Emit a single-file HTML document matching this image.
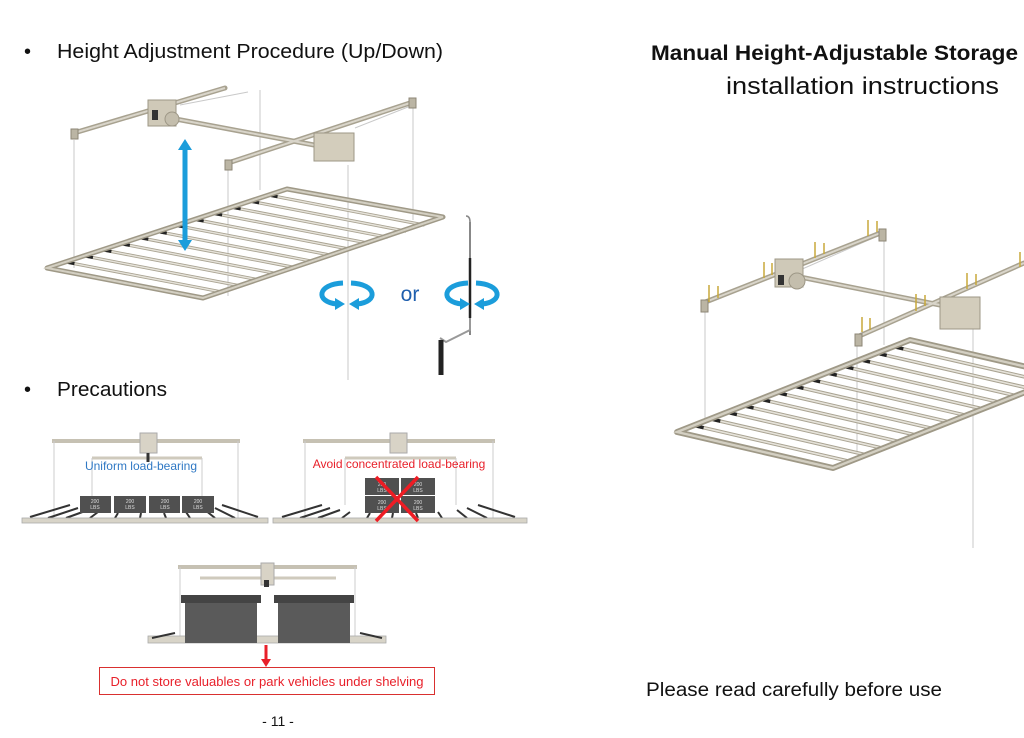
<!DOCTYPE html>
<html><head><meta charset="utf-8"><style>
html,body{margin:0;padding:0;background:#fff;}
svg{display:block;}
text{font-family:"Liberation Sans",sans-serif;}
</style></head><body>
<svg width="1024" height="738" viewBox="0 0 1024 738" xmlns="http://www.w3.org/2000/svg">
<defs>
<g id="sL"><line x1="0" y1="0" x2="156" y2="30" stroke="#a9a392" stroke-width="3.2"/><line x1="0" y1="0" x2="156" y2="30" stroke="#e6e3da" stroke-width="1.4"/><line x1="1" y1="0.2" x2="9" y2="1.7" stroke="#222" stroke-width="3"/></g>
<g id="sR"><line x1="0" y1="0" x2="156" y2="36" stroke="#a9a392" stroke-width="3.6"/><line x1="0" y1="0" x2="156" y2="36" stroke="#e6e3da" stroke-width="1.6"/><line x1="1" y1="0.2" x2="10" y2="2.3" stroke="#222" stroke-width="3.4"/></g>
<g id="rot">
<path d="M-4,-11 C-30,-10 -32,8 -10,10" fill="none" stroke="#1b9ddb" stroke-width="5"/>
<polygon points="-12,4 -2,10 -12,16" fill="#1b9ddb"/>
<path d="M4,-11 C30,-10 32,8 10,10" fill="none" stroke="#1b9ddb" stroke-width="5"/>
<polygon points="12,4 2,10 12,16" fill="#1b9ddb"/>
</g>
</defs>

<!-- Texts -->
<text x="24" y="58" font-size="20" fill="#111">•</text>
<text x="57" y="58" font-size="20" fill="#111" textLength="386" lengthAdjust="spacingAndGlyphs">Height Adjustment Procedure (Up/Down)</text>
<text x="24" y="396" font-size="20" fill="#111">•</text>
<text x="57" y="396" font-size="20" fill="#111" textLength="110" lengthAdjust="spacingAndGlyphs">Precautions</text>
<text x="651" y="60" font-size="21" font-weight="bold" fill="#111" textLength="367" lengthAdjust="spacingAndGlyphs">Manual Height-Adjustable Storage</text>
<text x="726" y="94" font-size="24" fill="#111" textLength="273" lengthAdjust="spacingAndGlyphs">installation instructions</text>
<text x="646" y="696" font-size="19" fill="#111" textLength="296" lengthAdjust="spacingAndGlyphs">Please read carefully before use</text>
<text x="278" y="726" font-size="14" fill="#111" text-anchor="middle">- 11 -</text>

<!-- LEFT TOP DIAGRAM -->
<g stroke="#c9c9c9" stroke-width="1">
<line x1="74" y1="140" x2="74" y2="268"/><line x1="228" y1="170" x2="228" y2="296"/>
<line x1="260" y1="90" x2="260" y2="190"/><line x1="413" y1="108" x2="413" y2="220"/>
<line x1="348" y1="165" x2="348" y2="380"/>
<line x1="180" y1="105" x2="248" y2="92"/><line x1="355" y1="128" x2="413" y2="105"/>
</g>
<!-- ceiling bars -->
<g stroke="#a8a290" stroke-width="5" stroke-linecap="round"><line x1="74" y1="133" x2="225" y2="88"/><line x1="228" y1="163" x2="413" y2="102"/><line x1="165" y1="117" x2="330" y2="148"/></g>
<g stroke="#d9d5ca" stroke-width="2"><line x1="74" y1="133" x2="225" y2="88"/><line x1="228" y1="163" x2="413" y2="102"/><line x1="165" y1="117" x2="330" y2="148"/></g>
<rect x="148" y="100" width="28" height="26" fill="#cfc9b8" stroke="#9d9786"/>
<rect x="152" y="110" width="6" height="10" fill="#333"/>
<circle cx="172" cy="119" r="7" fill="#c4bead" stroke="#9d9786"/>
<rect x="314" y="133" width="40" height="28" fill="#d3cdbc" stroke="#9d9786"/>
<rect x="71" y="129" width="7" height="10" fill="#bbb5a4" stroke="#8c8676"/>
<rect x="225" y="160" width="7" height="10" fill="#bbb5a4" stroke="#8c8676"/>
<rect x="409" y="98" width="7" height="10" fill="#bbb5a4" stroke="#8c8676"/>
<!-- frame -->
<g transform="translate(47,268)">
<use href="#sL" transform="translate(18.46,-6.08)"/><use href="#sL" transform="translate(36.92,-12.15)"/><use href="#sL" transform="translate(55.38,-18.23)"/><use href="#sL" transform="translate(73.85,-24.31)"/><use href="#sL" transform="translate(92.31,-30.38)"/><use href="#sL" transform="translate(110.77,-36.46)"/><use href="#sL" transform="translate(129.23,-42.54)"/><use href="#sL" transform="translate(147.69,-48.62)"/><use href="#sL" transform="translate(166.15,-54.69)"/><use href="#sL" transform="translate(184.62,-60.77)"/><use href="#sL" transform="translate(203.08,-66.85)"/><use href="#sL" transform="translate(221.54,-72.92)"/>
</g>
<polygon points="47,268 287,189 443,217 203,298" fill="none" stroke="#9f9987" stroke-width="5" stroke-linejoin="round"/>
<polygon points="47,268 287,189 443,217 203,298" fill="none" stroke="#d3cfc2" stroke-width="2"/>
<!-- blue arrow -->
<line x1="185" y1="150" x2="185" y2="240" stroke="#1b9ddb" stroke-width="5"/>
<polygon points="178,150 185,139 192,150" fill="#1b9ddb"/>
<polygon points="178,240 185,251 192,240" fill="#1b9ddb"/>
<!-- rotations -->
<use href="#rot" transform="translate(347,294)"/>
<text x="410" y="301" font-size="21" fill="#1f5fae" text-anchor="middle">or</text>
<line x1="470" y1="222" x2="470" y2="335" stroke="#888" stroke-width="2"/>
<path d="M470,222 q0,-6 -4,-6" fill="none" stroke="#888" stroke-width="1.5"/>
<line x1="470" y1="258" x2="470" y2="318" stroke="#222" stroke-width="2.5"/>
<path d="M470,318 L470,330 L446,342 L440,338" fill="none" stroke="#999" stroke-width="2"/>
<line x1="441" y1="340" x2="441" y2="375" stroke="#222" stroke-width="5"/>
<use href="#rot" transform="translate(472,294)"/>

<!-- RIGHT DIAGRAM -->
<g stroke="#c9c9c9" stroke-width="1">
<line x1="705" y1="310" x2="705" y2="420"/><line x1="884" y1="240" x2="884" y2="345"/>
<line x1="857" y1="345" x2="857" y2="452"/><line x1="973" y1="322" x2="973" y2="548"/>
<line x1="800" y1="270" x2="880" y2="235"/>
</g>
<g stroke="#a8a290" stroke-width="5" stroke-linecap="round"><line x1="703" y1="303" x2="883" y2="232"/><line x1="857" y1="337" x2="1024" y2="263"/><line x1="790" y1="275" x2="965" y2="310"/></g>
<g stroke="#d9d5ca" stroke-width="2"><line x1="703" y1="303" x2="883" y2="232"/><line x1="857" y1="337" x2="1024" y2="263"/><line x1="790" y1="275" x2="965" y2="310"/></g>
<rect x="775" y="259" width="28" height="28" fill="#cfc9b8" stroke="#9d9786"/>
<rect x="778" y="275" width="6" height="10" fill="#333"/>
<circle cx="797" cy="281" r="8" fill="#c4bead" stroke="#9d9786"/>
<rect x="940" y="297" width="40" height="32" fill="#d3cdbc" stroke="#9d9786"/>
<rect x="701" y="300" width="7" height="12" fill="#bbb5a4" stroke="#8c8676"/>
<rect x="855" y="334" width="7" height="12" fill="#bbb5a4" stroke="#8c8676"/>
<rect x="879" y="229" width="7" height="12" fill="#bbb5a4" stroke="#8c8676"/>
<g stroke="#c8a93a" stroke-width="1.5">
<line x1="709" y1="285" x2="709" y2="302"/><line x1="718" y1="286" x2="718" y2="298"/>
<line x1="764" y1="262" x2="764" y2="278"/><line x1="772" y1="263" x2="772" y2="275"/>
<line x1="815" y1="242" x2="815" y2="258"/><line x1="824" y1="243" x2="824" y2="254"/>
<line x1="868" y1="220" x2="868" y2="236"/><line x1="877" y1="221" x2="877" y2="232"/>
<line x1="862" y1="317" x2="862" y2="332"/><line x1="870" y1="318" x2="870" y2="330"/>
<line x1="916" y1="294" x2="916" y2="311"/><line x1="925" y1="295" x2="925" y2="306"/>
<line x1="967" y1="273" x2="967" y2="289"/><line x1="976" y1="274" x2="976" y2="285"/>
<line x1="1020" y1="252" x2="1020" y2="267"/>
</g>
<g transform="translate(677,432)">
<use href="#sR" transform="translate(16.64,-6.57)"/><use href="#sR" transform="translate(33.29,-13.14)"/><use href="#sR" transform="translate(49.93,-19.71)"/><use href="#sR" transform="translate(66.57,-26.29)"/><use href="#sR" transform="translate(83.21,-32.86)"/><use href="#sR" transform="translate(99.86,-39.43)"/><use href="#sR" transform="translate(116.5,-46)"/><use href="#sR" transform="translate(133.14,-52.57)"/><use href="#sR" transform="translate(149.79,-59.14)"/><use href="#sR" transform="translate(166.43,-65.71)"/><use href="#sR" transform="translate(183.07,-72.29)"/><use href="#sR" transform="translate(199.71,-78.86)"/><use href="#sR" transform="translate(216.36,-85.43)"/>
</g>
<polygon points="677,432 910,340 1066,376 833,468" fill="none" stroke="#9f9987" stroke-width="6" stroke-linejoin="round"/>
<polygon points="677,432 910,340 1066,376 833,468" fill="none" stroke="#d3cfc2" stroke-width="2.4"/>

<!-- PRECAUTION 1 -->
<g>
<line x1="52" y1="441" x2="240" y2="441" stroke="#c6c1b3" stroke-width="4"/>
<line x1="92" y1="458" x2="202" y2="458" stroke="#cfcabd" stroke-width="3"/>
<line x1="54" y1="441" x2="54" y2="519" stroke="#ccc" stroke-width="1"/><line x1="238" y1="441" x2="238" y2="519" stroke="#ccc" stroke-width="1"/>
<line x1="92" y1="458" x2="92" y2="505" stroke="#ccc"/><line x1="202" y1="458" x2="202" y2="505" stroke="#ccc"/>
<rect x="140" y="433" width="17" height="20" fill="#d8d3c6" stroke="#aaa"/>
<line x1="148" y1="453" x2="148" y2="462" stroke="#333" stroke-width="3"/>
<text x="141" y="470" font-size="12" fill="#2f78c4" text-anchor="middle">Uniform load-bearing</text>
<g stroke="#333" stroke-width="2"><line x1="30" y1="517" x2="70" y2="505"/><line x1="48" y1="518" x2="78" y2="508"/><line x1="66" y1="518" x2="88" y2="510"/><line x1="90" y1="518" x2="98" y2="512"/><line x1="115" y1="518" x2="118" y2="513"/><line x1="140" y1="518" x2="141" y2="513"/><line x1="166" y1="518" x2="164" y2="513"/><line x1="190" y1="518" x2="186" y2="512"/><line x1="215" y1="518" x2="205" y2="510"/><line x1="235" y1="518" x2="215" y2="508"/><line x1="258" y1="517" x2="222" y2="505"/></g>
<rect x="22" y="518" width="246" height="5" fill="#d8d4c8" stroke="#aaa" stroke-width="0.8"/>
<g fill="#505050"><rect x="80" y="496" width="31" height="17"/><rect x="114" y="496" width="32" height="17"/><rect x="149" y="496" width="31" height="17"/><rect x="182" y="496" width="32" height="17"/></g>
<g font-size="5" fill="#ddd" text-anchor="middle"><text x="95" y="503">200</text><text x="95" y="509">LBS</text><text x="130" y="503">200</text><text x="130" y="509">LBS</text><text x="165" y="503">200</text><text x="165" y="509">LBS</text><text x="198" y="503">200</text><text x="198" y="509">LBS</text></g>
</g>

<!-- PRECAUTION 2 -->
<g>
<line x1="303" y1="441" x2="495" y2="441" stroke="#c6c1b3" stroke-width="4"/>
<line x1="345" y1="458" x2="456" y2="458" stroke="#cfcabd" stroke-width="3"/>
<line x1="305" y1="441" x2="305" y2="519" stroke="#ccc"/><line x1="493" y1="441" x2="493" y2="519" stroke="#ccc"/>
<line x1="345" y1="458" x2="345" y2="505" stroke="#ccc"/><line x1="456" y1="458" x2="456" y2="505" stroke="#ccc"/>
<rect x="390" y="433" width="17" height="20" fill="#d8d3c6" stroke="#aaa"/>
<g stroke="#333" stroke-width="2"><line x1="282" y1="517" x2="322" y2="505"/><line x1="300" y1="518" x2="330" y2="508"/><line x1="318" y1="518" x2="340" y2="510"/><line x1="342" y1="518" x2="350" y2="512"/><line x1="367" y1="518" x2="370" y2="513"/><line x1="392" y1="518" x2="393" y2="513"/><line x1="418" y1="518" x2="416" y2="513"/><line x1="442" y1="518" x2="438" y2="512"/><line x1="467" y1="518" x2="457" y2="510"/><line x1="487" y1="518" x2="467" y2="508"/><line x1="515" y1="517" x2="478" y2="505"/></g>
<rect x="273" y="518" width="254" height="5" fill="#d8d4c8" stroke="#aaa" stroke-width="0.8"/>
<g fill="#505050"><rect x="365" y="478" width="34" height="17"/><rect x="401" y="478" width="34" height="17"/><rect x="365" y="496" width="34" height="17"/><rect x="401" y="496" width="34" height="17"/></g>
<g font-size="5" fill="#ddd" text-anchor="middle"><text x="382" y="486">200</text><text x="382" y="492">LBS</text><text x="418" y="486">200</text><text x="418" y="492">LBS</text><text x="382" y="504">200</text><text x="382" y="510">LBS</text><text x="418" y="504">200</text><text x="418" y="510">LBS</text></g>
<text x="399" y="468" font-size="12" fill="#e8202a" text-anchor="middle">Avoid concentrated load-bearing</text>
<g stroke="#ee1c24" stroke-width="3.5"><line x1="376" y1="477" x2="418" y2="521"/><line x1="418" y1="477" x2="376" y2="521"/></g>
</g>

<!-- PRECAUTION 3 -->
<g>
<line x1="178" y1="567" x2="357" y2="567" stroke="#c6c1b3" stroke-width="4"/>
<line x1="200" y1="578" x2="336" y2="578" stroke="#cfcabd" stroke-width="3"/>
<line x1="180" y1="567" x2="180" y2="640" stroke="#ccc"/><line x1="355" y1="567" x2="355" y2="640" stroke="#ccc"/>
<rect x="261" y="563" width="13" height="22" fill="#d8d3c6" stroke="#aaa"/>
<rect x="264" y="580" width="5" height="7" fill="#333"/>
<rect x="148" y="636" width="238" height="7" fill="#d8d4c8" stroke="#aaa" stroke-width="0.8"/>
<line x1="152" y1="638" x2="175" y2="633" stroke="#333" stroke-width="2"/><line x1="382" y1="638" x2="360" y2="633" stroke="#333" stroke-width="2"/>
<rect x="181" y="595" width="80" height="8" fill="#444"/>
<rect x="185" y="603" width="72" height="40" fill="#5a5a5a"/>
<rect x="274" y="595" width="80" height="8" fill="#444"/>
<rect x="278" y="603" width="72" height="40" fill="#5a5a5a"/>
<line x1="266" y1="645" x2="266" y2="660" stroke="#e8202a" stroke-width="3"/>
<polygon points="261,659 271,659 266,667" fill="#e8202a"/>
<rect x="99.5" y="667.5" width="335" height="27" fill="#fff" stroke="#d9302f" stroke-width="1"/>
<text x="267" y="686" font-size="12.5" fill="#e8202a" text-anchor="middle" textLength="313" lengthAdjust="spacingAndGlyphs">Do not store valuables or park vehicles under shelving</text>
</g>
</svg>
</body></html>
